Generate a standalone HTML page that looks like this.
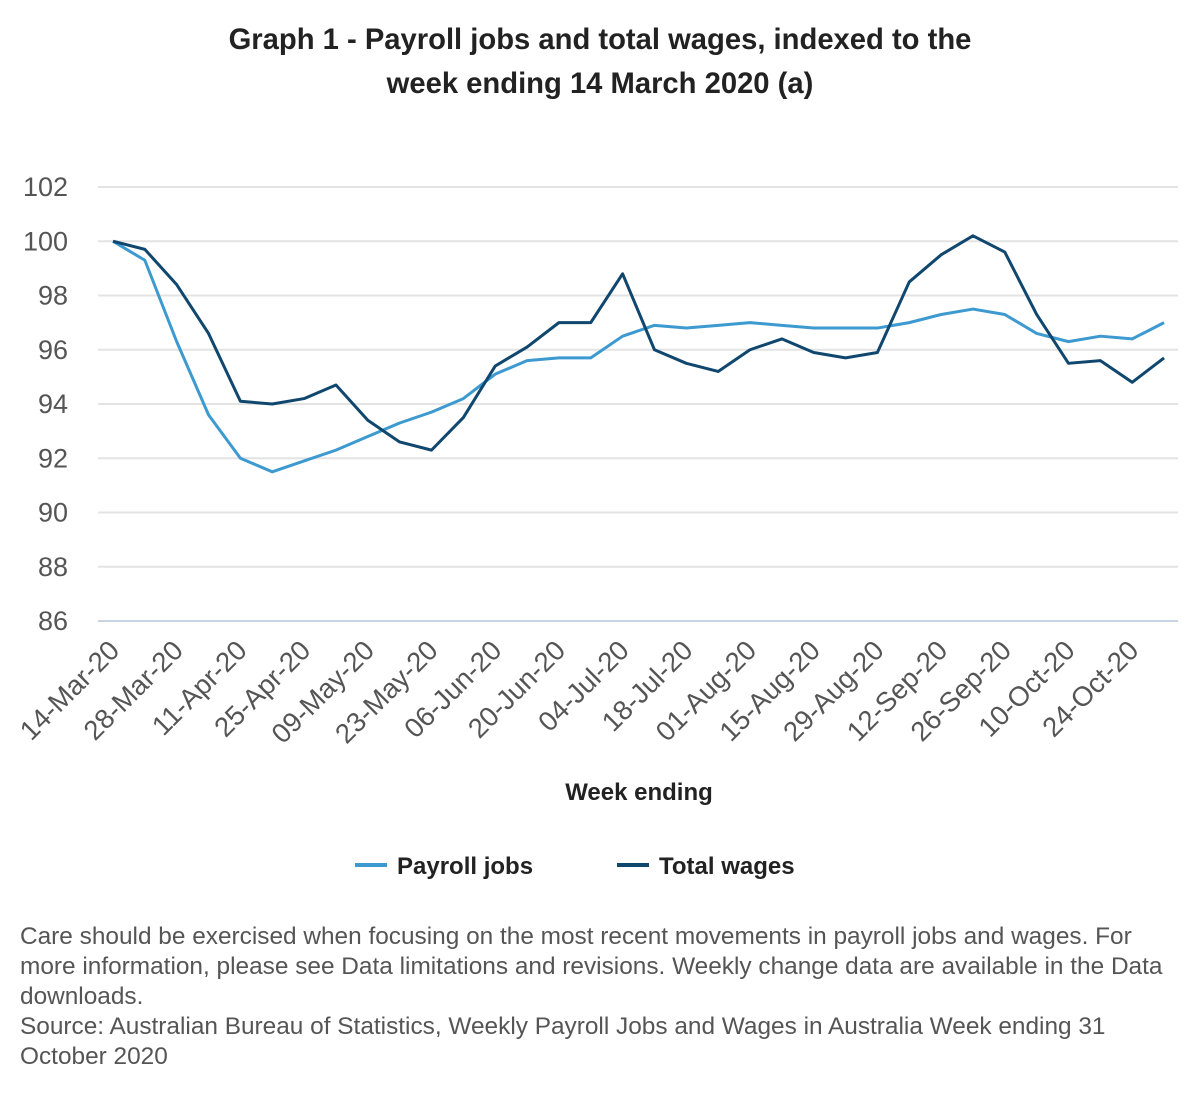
<!DOCTYPE html>
<html><head><meta charset="utf-8"><style>
body{margin:0;background:#fff;font-family:"Liberation Sans",Arial,sans-serif;}
</style></head><body>
<svg width="1200" height="1100" xmlns="http://www.w3.org/2000/svg" font-family="Liberation Sans, Arial, sans-serif">
<text x="600" y="49" text-anchor="middle" font-size="29.2" font-weight="bold" fill="#222">Graph 1 - Payroll jobs and total wages, indexed to the</text>
<text x="600" y="93" text-anchor="middle" font-size="29.2" font-weight="bold" fill="#222">week ending 14 March 2020 (a)</text>
<g id="grid"></g>
<g id="lines"></g>
<text x="639" y="800" text-anchor="middle" font-size="24" font-weight="bold" fill="#222">Week ending</text>
<line x1="355" y1="865" x2="387" y2="865" stroke="#3c9ad0" stroke-width="4"/>
<text x="397" y="874" font-size="24" font-weight="bold" fill="#222">Payroll jobs</text>
<line x1="617" y1="865" x2="649" y2="865" stroke="#10476e" stroke-width="4"/>
<text x="659" y="874" font-size="24" font-weight="bold" fill="#222">Total wages</text>
<g font-size="24.4" fill="#555">
<text x="20" y="944">Care should be exercised when focusing on the most recent movements in payroll jobs and wages. For</text>
<text x="20" y="974">more information, please see Data limitations and revisions. Weekly change data are available in the Data</text>
<text x="20" y="1004">downloads.</text>
<text x="20" y="1034">Source: Australian Bureau of Statistics, Weekly Payroll Jobs and Wages in Australia Week ending 31</text>
<text x="20" y="1064">October 2020</text>
</g>
</svg>
<script>
const ns="http://www.w3.org/2000/svg";
const y=v=>621-(v-86)*27.125;
const x=i=>113+i*31.85;
const g=document.getElementById('grid');
function el(p,t,a,txt){const e=document.createElementNS(ns,t);for(const k in a)e.setAttribute(k,a[k]);if(txt)e.textContent=txt;p.appendChild(e);return e;}
for(let v=86;v<=102;v+=2){
 el(g,'line',{x1:98,x2:1178,y1:y(v),y2:y(v),stroke:v==86?'#c8d4e4':'#e3e3e3','stroke-width':2});
 el(g,'text',{x:68,y:y(v)+9,'text-anchor':'end','font-size':27,fill:'#555'},String(v));
}
const labs=['14-Mar-20','28-Mar-20','11-Apr-20','25-Apr-20','09-May-20','23-May-20','06-Jun-20','20-Jun-20','04-Jul-20','18-Jul-20','01-Aug-20','15-Aug-20','29-Aug-20','12-Sep-20','26-Sep-20','10-Oct-20','24-Oct-20'];
labs.forEach((l,k)=>{const xx=x(2*k)+8,yy=652;el(g,'text',{x:xx,y:yy,'text-anchor':'end','font-size':27.5,fill:'#555',transform:`rotate(-45 ${xx} ${yy})`},l);});
const p=[100,99.3,96.3,93.6,92.0,91.5,91.9,92.3,92.8,93.3,93.7,94.2,95.1,95.6,95.7,95.7,96.5,96.9,96.8,96.9,97.0,96.9,96.8,96.8,96.8,97.0,97.3,97.5,97.3,96.6,96.3,96.5,96.4,97.0];
const w=[100,99.7,98.4,96.6,94.1,94.0,94.2,94.7,93.4,92.6,92.3,93.5,95.4,96.1,97.0,97.0,98.8,96.0,95.5,95.2,96.0,96.4,95.9,95.7,95.9,98.5,99.5,100.2,99.6,97.3,95.5,95.6,94.8,95.7];
const L=document.getElementById('lines');
[[p,'#3c9ad0'],[w,'#10476e']].forEach(([d,c])=>el(L,'polyline',{points:d.map((v,i)=>x(i)+','+y(v)).join(' '),fill:'none',stroke:c,'stroke-width':3,'stroke-linejoin':'round'}));
</script>
</body></html>
